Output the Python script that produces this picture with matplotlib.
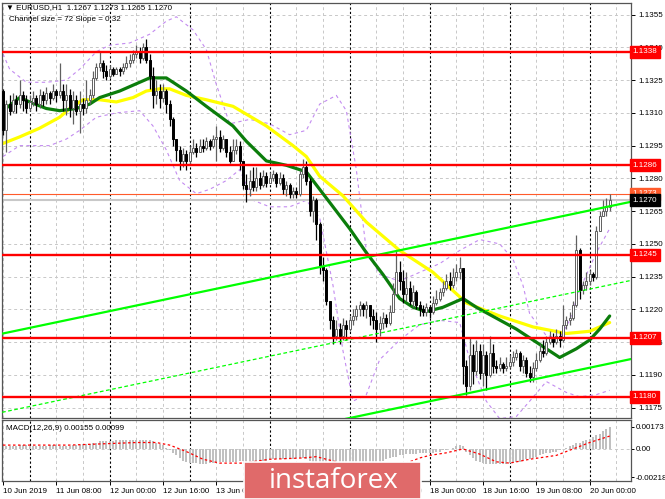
import matplotlib
matplotlib.use('Agg')
import matplotlib.pyplot as plt
import matplotlib.transforms as mtransforms
from matplotlib.patches import Rectangle

plt.rcParams['font.family'] = ['Liberation Sans', 'DejaVu Sans']

# ---------------- data (EURUSD H1, bar 0 = 10 Jun 2019 16:00) ----------------
first_open = 1.1320
closes = [
1.1302, 1.1314, 1.1311, 1.1316, 1.1314, 1.1318, 1.1316, 1.1312, 1.1315, 1.1317,
1.1314, 1.1318, 1.1316, 1.1319, 1.1317, 1.1320, 1.1318, 1.1320, 1.1316, 1.1318,
1.1312, 1.1316, 1.1311, 1.1314, 1.1312, 1.1316, 1.1318, 1.1326, 1.1331, 1.1333,
1.1329, 1.1327, 1.1330, 1.1328, 1.1330, 1.1329, 1.1331, 1.1333, 1.1334, 1.1337,
1.1338, 1.1335, 1.1340, 1.1334, 1.1327, 1.1318, 1.1320, 1.1317, 1.1320, 1.1314,
1.1307, 1.1298, 1.1293, 1.1288, 1.1291, 1.1288, 1.1292, 1.1294, 1.1292, 1.1295,
1.1294, 1.1297, 1.1295, 1.1298, 1.1299, 1.1294, 1.1298, 1.1292, 1.1288, 1.1293,
1.1295, 1.1288, 1.1277, 1.1275, 1.1279, 1.1276, 1.1280, 1.1277, 1.1281, 1.1278,
1.1280, 1.1282, 1.1278, 1.1280, 1.1275, 1.1277, 1.1273, 1.1274, 1.1273, 1.1282,
1.1285, 1.1279, 1.1265, 1.1270, 1.1259, 1.1240, 1.1238, 1.1224, 1.1215, 1.1208,
1.1211, 1.1208, 1.1213, 1.1211, 1.1215, 1.1217, 1.1220, 1.1222, 1.1220, 1.1222,
1.1217, 1.1215, 1.1211, 1.1214, 1.1216, 1.1214, 1.1219, 1.1227, 1.1237, 1.1233,
1.1227, 1.1230, 1.1224, 1.1228, 1.1222, 1.1220, 1.1219, 1.1221, 1.1219, 1.1223,
1.1225, 1.1228, 1.1230, 1.1233, 1.1231, 1.1235, 1.1237, 1.1239, 1.1194, 1.1185,
1.1199, 1.1192, 1.1201, 1.1191, 1.1199, 1.1190, 1.1200, 1.1194, 1.1193, 1.1195,
1.1193, 1.1194, 1.1196, 1.1198, 1.1200, 1.1194, 1.1197, 1.1191, 1.1189, 1.1193,
1.1197, 1.1201, 1.1200, 1.1205, 1.1207, 1.1205, 1.1208, 1.1206, 1.1213, 1.1215,
1.1216, 1.1222, 1.1247, 1.1229, 1.1231, 1.1233, 1.1236, 1.1235, 1.1256, 1.1263,
1.1265, 1.1267, 1.1270]
highs = [
1.1321, 1.1316, 1.1318, 1.1319, 1.1318, 1.1325, 1.1320, 1.1318, 1.1318, 1.1320,
1.1318, 1.1321, 1.1320, 1.1322, 1.1320, 1.1323, 1.1321, 1.1333, 1.1323, 1.1323,
1.1321, 1.1320, 1.1318, 1.1320, 1.1317, 1.1325, 1.1321, 1.1329, 1.1333, 1.1338,
1.1334, 1.1332, 1.1332, 1.1331, 1.1331, 1.1331, 1.1333, 1.1336, 1.1337, 1.1339,
1.1341, 1.1340, 1.1342, 1.1344, 1.1337, 1.1331, 1.1325, 1.1323, 1.1323, 1.1321,
1.1316, 1.1308, 1.1298, 1.1295, 1.1294, 1.1293, 1.1295, 1.1298, 1.1296, 1.1298,
1.1298, 1.1299, 1.1298, 1.1300, 1.1304, 1.1302, 1.1300, 1.1298, 1.1295, 1.1298,
1.1298, 1.1297, 1.1288, 1.1282, 1.1284, 1.1285, 1.1285, 1.1283, 1.1284, 1.1283,
1.1283, 1.1284, 1.1283, 1.1283, 1.1282, 1.1279, 1.1278, 1.1276, 1.1276, 1.1284,
1.1289, 1.1288, 1.1280, 1.1272, 1.1271, 1.1260, 1.1244, 1.1239, 1.1224, 1.1217,
1.1215, 1.1214, 1.1216, 1.1215, 1.1217, 1.1220, 1.1222, 1.1224, 1.1223, 1.1224,
1.1222, 1.1220, 1.1219, 1.1217, 1.1219, 1.1218, 1.1222, 1.1232, 1.1247, 1.1242,
1.1238, 1.1237, 1.1233, 1.1231, 1.1229, 1.1224, 1.1222, 1.1223, 1.1222, 1.1226,
1.1229, 1.1230, 1.1233, 1.1236, 1.1237, 1.1239, 1.1241, 1.1244, 1.1239, 1.1197,
1.1207, 1.1204, 1.1206, 1.1204, 1.1204, 1.1201, 1.1208, 1.1204, 1.1197, 1.1198,
1.1196, 1.1198, 1.1199, 1.1201, 1.1202, 1.1201, 1.1199, 1.1198, 1.1194, 1.1196,
1.1200, 1.1204, 1.1206, 1.1208, 1.1210, 1.1209, 1.1211, 1.1210, 1.1222, 1.1217,
1.1219, 1.1224, 1.1254, 1.1248, 1.1233, 1.1237, 1.1238, 1.1237, 1.1258, 1.1265,
1.1270, 1.1271, 1.1273]
lows = [
1.1300, 1.1292, 1.1309, 1.1310, 1.1310, 1.1312, 1.1311, 1.1310, 1.1311, 1.1313,
1.1311, 1.1312, 1.1313, 1.1314, 1.1314, 1.1316, 1.1315, 1.1317, 1.1311, 1.1309,
1.1308, 1.1305, 1.1309, 1.1301, 1.1309, 1.1310, 1.1314, 1.1317, 1.1325, 1.1329,
1.1326, 1.1325, 1.1326, 1.1327, 1.1328, 1.1327, 1.1328, 1.1330, 1.1331, 1.1333,
1.1335, 1.1333, 1.1334, 1.1333, 1.1321, 1.1312, 1.1314, 1.1312, 1.1315, 1.1310,
1.1304, 1.1295, 1.1288, 1.1284, 1.1285, 1.1284, 1.1286, 1.1291, 1.1290, 1.1292,
1.1292, 1.1293, 1.1293, 1.1294, 1.1288, 1.1292, 1.1293, 1.1290, 1.1287, 1.1288,
1.1291, 1.1284, 1.1275, 1.1269, 1.1272, 1.1274, 1.1274, 1.1275, 1.1276, 1.1276,
1.1278, 1.1279, 1.1276, 1.1277, 1.1273, 1.1272, 1.1271, 1.1271, 1.1271, 1.1272,
1.1280, 1.1277, 1.1263, 1.1260, 1.1252, 1.1236, 1.1233, 1.1222, 1.1211, 1.1204,
1.1206, 1.1204, 1.1206, 1.1206, 1.1210, 1.1213, 1.1215, 1.1217, 1.1217, 1.1216,
1.1213, 1.1211, 1.1205, 1.1208, 1.1211, 1.1212, 1.1213, 1.1219, 1.1227, 1.1229,
1.1223, 1.1224, 1.1222, 1.1221, 1.1220, 1.1217, 1.1217, 1.1217, 1.1216, 1.1218,
1.1222, 1.1224, 1.1226, 1.1229, 1.1229, 1.1230, 1.1233, 1.1234, 1.1186, 1.1181,
1.1183, 1.1186, 1.1190, 1.1188, 1.1185, 1.1183, 1.1189, 1.1191, 1.1191, 1.1192,
1.1191, 1.1192, 1.1193, 1.1194, 1.1197, 1.1192, 1.1191, 1.1189, 1.1187, 1.1187,
1.1192, 1.1196, 1.1198, 1.1199, 1.1204, 1.1203, 1.1204, 1.1203, 1.1205, 1.1211,
1.1213, 1.1215, 1.1221, 1.1225, 1.1227, 1.1229, 1.1231, 1.1233, 1.1234, 1.1256,
1.1263, 1.1263, 1.1265]

# moving averages: (bar, price)
ma_fast_bars = [0, 5, 8, 13, 17, 22, 26, 29, 35, 41, 44, 47, 49, 55, 61, 69, 73, 79, 85, 91,
                95, 99, 104, 109, 114, 119, 123, 127, 132, 138, 142, 148, 154, 160, 167, 172,
                176, 179, 182]
ma_fast_vals = [1.1311, 1.1317, 1.1315, 1.1312, 1.1311, 1.1312, 1.1314, 1.1317, 1.1320, 1.1324,
                1.1326, 1.1326, 1.1326, 1.1320, 1.1313, 1.1304, 1.1297, 1.1288, 1.1286, 1.1283,
                1.1275, 1.1267, 1.1257, 1.1246, 1.1236, 1.1225, 1.1221, 1.1219, 1.1221, 1.1225,
                1.1221, 1.1216, 1.1211, 1.1205, 1.1198, 1.1202, 1.1206, 1.1211, 1.1217]
ma_slow_bars = [0, 5, 11, 17, 20, 24, 29, 34, 39, 43, 47, 50, 55, 61, 69, 79, 87, 91, 95, 102,
                109, 119, 129, 139, 149, 159, 169, 176, 182]
ma_slow_vals = [1.1296, 1.1299, 1.1303, 1.1308, 1.1312, 1.1316, 1.1316, 1.1315, 1.1317, 1.1320,
                1.1321, 1.1321, 1.1318, 1.1316, 1.1313, 1.1304, 1.1295, 1.1290, 1.1281, 1.1272,
                1.1260, 1.1247, 1.1237, 1.1223, 1.1217, 1.1212, 1.1209, 1.1210, 1.1214]

# envelope bands (dashed violet)
band_up_bars = [0, 2, 7, 13, 19, 23, 28, 32, 38, 44, 49, 52, 57, 61, 64, 68, 74, 80, 86, 91,
                95, 100, 103, 106, 109, 113, 119, 125, 131, 137, 143, 149, 153, 156, 158, 163,
                167, 170, 173, 178, 182]
band_up_vals = [1.1337, 1.1330, 1.1324, 1.1324, 1.1325, 1.1330, 1.1338, 1.1341, 1.1342, 1.1346,
                1.1352, 1.1354, 1.1348, 1.1339, 1.1323, 1.1305, 1.1307, 1.1305, 1.1300, 1.1302,
                1.1314, 1.1318, 1.1311, 1.1284, 1.1247, 1.1236, 1.1233, 1.1237, 1.1241, 1.1247,
                1.1252, 1.1250, 1.1243, 1.1231, 1.1218, 1.1208, 1.1207, 1.1215, 1.1229, 1.1246,
                1.1257]
band_dn_bars = [0, 5, 14, 19, 23, 28, 34, 41, 45, 49, 53, 58, 62, 67, 71, 75, 80, 86, 91, 95,
                99, 102, 105, 109, 113, 119, 125, 131, 137, 140, 145, 149, 154, 158, 163, 169,
                173, 178, 182]
band_dn_vals = [1.1290, 1.1295, 1.1295, 1.1298, 1.1302, 1.1308, 1.1310, 1.1311, 1.1304, 1.1293,
                1.1279, 1.1273, 1.1275, 1.1279, 1.1284, 1.1270, 1.1267, 1.1267, 1.1270, 1.1262,
                1.1231, 1.1201, 1.1178, 1.1181, 1.1197, 1.1206, 1.1213, 1.1215, 1.1214, 1.1197,
                1.1178, 1.1170, 1.1171, 1.1178, 1.1187, 1.1182, 1.1180, 1.1181, 1.1183]

# linear regression channel
chan_mid_start = 1.1173   # at bar 0
chan_slope = 0.000032     # per bar (0.32 pips)
chan_half = 0.0036        # channel size 72 pips

levels = [1.1338, 1.1286, 1.1245, 1.1207, 1.1180]
bid, ask = 1.1270, 1.1273
price_ticks = [1.1355, 1.1340, 1.1325, 1.1310, 1.1295, 1.1280, 1.1265, 1.1250,
               1.1235, 1.1220, 1.1205, 1.1190, 1.1175]

# MACD (units of 1e-4)
macd_scale = 1e-4
macd_hist = [
2, 2, 2, 2, 2, 3, 3, 3, 2, 2,
2, 2, 2, 2, 3, 3, 3, 2, 2, 2,
2, 3, 3, 3, 4, 4, 4, 5, 5, 6,
6, 6, 6, 6, 7, 7, 7, 7, 7, 7,
7, 7, 7, 7, 7, 6, 5, 4, 3, 1,
-1, -3, -5, -7, -9, -10, -11, -11, -11, -12,
-12, -12, -11, -11, -11, -10, -10, -10, -10, -10,
-10, -9, -9, -10, -10, -10, -10, -9, -9, -9,
-8, -8, -8, -8, -8, -8, -8, -8, -7, -7,
-7, -8, -9, -11, -13, -15, -17, -19, -20, -21,
-21, -22, -22, -22, -21, -21, -20, -19, -18, -17,
-16, -14, -12, -10, -9, -8, -7, -6, -6, -5,
-5, -4, -4, -4, -4, -3, -3, -3, -3, -3,
-2, -2, -1, -1, 0, 1, 2, 3, 2, -2,
-5, -7, -9, -10, -11, -12, -12, -12, -12, -12,
-12, -12, -11, -11, -10, -10, -9, -8, -8, -7,
-6, -5, -4, -3, -3, -2, -2, -1, 0, 1,
2, 3, 5, 5, 6, 7, 8, 9, 11, 12,
14, 15.5, 17.3]
signal_bars = [0, 20, 40, 46, 50, 55, 60, 65, 72, 80, 90, 94, 100, 106, 112, 118, 125, 128,
               133, 138, 143, 148, 152, 158, 166, 171, 176, 182]
signal_vals = [3, 3, 5, 5, 3, -2, -8, -11, -11, -8, -7, -6, -10, -16, -17, -14, -7, -5,
               -3, 0, -4, -10, -11, -8, -5, 0, 5, 10]
macd_ticks = [0.00173, 0.0, -0.00218]
macd_tick_labels = ['0.00173', '0.00', '-0.00218']

time_tick_bars = [0, 16, 32, 48, 64, 80, 96, 112, 128, 144, 160, 176]
time_tick_labels = ['10 Jun 2019', '11 Jun 08:00', '12 Jun 00:00', '12 Jun 16:00',
                    '13 Jun 08:00', '14 Jun 00:00', '14 Jun 16:00', '17 Jun 08:00',
                    '18 Jun 00:00', '18 Jun 16:00', '19 Jun 08:00', '20 Jun 00:00']
day_sep_bars = [8, 32, 56, 80, 104, 128, 152, 176]

# ---------------- figure ----------------
W, H = 665, 499
fig = plt.figure(figsize=(W / 100, H / 100), dpi=100)
fig.patch.set_facecolor('white')

def rect(l, t, r, b):
    return [l / W, 1 - b / H, (r - l) / W, (b - t) / H]

RIGHT = 631
ax = fig.add_axes(rect(2, 3, RIGHT, 418))
axm = fig.add_axes(rect(2, 420, RIGHT, 481))
XL = (-0.3, 188.4)
n = len(closes)
opens = [first_open] + closes[:-1]
xs = list(range(n))

FS = 5.8
grid_kw = dict(color='#C8C8C8', lw=0.7, dashes=(3, 3), zorder=0)
sep_kw = dict(color='black', lw=0.8, dashes=(2, 2), zorder=0.5)

for a in (ax, axm):
    a.set_xlim(*XL)
    for s in a.spines.values():
        s.set_color('#555555')
        s.set_linewidth(0.9)
    a.set_facecolor('white')
    for b in range(0, 189, 8):
        if b not in day_sep_bars:
            a.axvline(b, **grid_kw)
    for b in day_sep_bars:
        a.axvline(b, **sep_kw)

# main panel
ax.set_ylim(1.11703, 1.13603)
for p in price_ticks:
    ax.axhline(p, **grid_kw)

# bands
ax.plot(band_up_bars, band_up_vals, color='#C38BF0', lw=0.8, dashes=(3, 3), zorder=1)
ax.plot(band_dn_bars, band_dn_vals, color='#C38BF0', lw=0.8, dashes=(3, 3), zorder=1)

# bid/ask lines
ax.axhline(bid, color='#C8C8C8', lw=1.5, zorder=1)
ax.axhline(ask, color='#FF5A2A', lw=0.8, zorder=1)

# moving averages
ax.plot(ma_slow_bars, ma_slow_vals, color='#FFFF00', lw=2.3, zorder=2, solid_capstyle='round')
ax.plot(ma_fast_bars, ma_fast_vals, color='#0B7D0B', lw=2.3, zorder=2.1, solid_capstyle='round')

# candles
for i in xs:
    o, c, h, l = opens[i], closes[i], highs[i], lows[i]
    bull = c >= o
    edge = '#606060' if bull else 'black'
    fill = 'white' if bull else 'black'
    ax.vlines(i, l, h, color=edge, lw=0.9, zorder=3)
    hgt = max(abs(c - o), 0.00002)
    ax.bar(i, hgt, bottom=min(o, c), width=0.65, color=fill, edgecolor=edge,
           linewidth=0.7, zorder=3.1)

# regression channel
cx = [XL[0], XL[1]]
mid = [chan_mid_start + chan_slope * x for x in cx]
ax.plot(cx, [m + chan_half for m in mid], color='#00FF00', lw=1.6, zorder=4)
ax.plot(cx, [m - chan_half for m in mid], color='#00FF00', lw=1.6, zorder=4)
ax.plot(cx, mid, color='#00FF00', lw=0.9, dashes=(3, 2), zorder=4)

# horizontal levels
for lv in levels:
    ax.axhline(lv, color='#FF0000', lw=1.7, zorder=5)

ax.set_xticks([])
ax.yaxis.tick_right()
ax.set_yticks(price_ticks)
ax.set_yticklabels([f'{p:.4f}' for p in price_ticks])
ax.tick_params(axis='y', labelsize=FS, length=3, pad=2, colors='black', width=0.7)

trans = mtransforms.blended_transform_factory(ax.transAxes, ax.transData)
box_kw = dict(boxstyle='square,pad=0.3')
for lv in levels:
    ax.text(1.003, lv, f'{lv:.4f}', transform=trans, fontsize=FS, color='white',
            va='center', ha='left', zorder=10, clip_on=False,
            bbox=dict(fc='#FF0000', ec='#FF0000', **box_kw))
ax.text(1.003, ask, f'{ask:.4f}', transform=trans, fontsize=FS, color='white',
        va='center', ha='left', zorder=10, clip_on=False,
        bbox=dict(fc='#FF5A2A', ec='#FF5A2A', **box_kw))
ax.text(1.003, bid, f'{bid:.4f}', transform=trans, fontsize=FS, color='white',
        va='center', ha='left', zorder=11, clip_on=False,
        bbox=dict(fc='black', ec='black', **box_kw))

# titles
fig.text(6 / W, 1 - 8 / H, '\u25BC EURUSD,H1  1.1267 1.1273 1.1265 1.1270', fontsize=FS,
         va='center', ha='left', color='black')
fig.text(9 / W, 1 - 19.5 / H, 'Channel size = 72 Slope = 0.32', fontsize=FS,
         va='center', ha='left', color='black')

# MACD panel
axm.set_ylim(-0.00249, 0.00225)
axm.axhline(0, **grid_kw)
axm.bar(xs, [v * macd_scale for v in macd_hist], width=0.6, color='#C0C0C0', zorder=2)
axm.plot(signal_bars, [v * macd_scale for v in signal_vals], color='#FF0000', lw=0.9,
         dashes=(2, 2), zorder=3)
axm.yaxis.tick_right()
axm.set_yticks(macd_ticks)
axm.set_yticklabels(macd_tick_labels)
axm.tick_params(axis='y', labelsize=FS, length=2.5, pad=1, width=0.7)
axm.set_xticks(time_tick_bars)
axm.set_xticklabels(time_tick_labels)
axm.tick_params(axis='x', labelsize=FS, length=3, pad=2, width=0.7)
for lbl in axm.get_xticklabels():
    lbl.set_ha('left')
axm.text(0.006, 0.86, 'MACD(12,26,9) 0.00155 0.00099', transform=axm.transAxes,
         fontsize=FS, va='center', ha='left')

# instaforex logo
logo = Rectangle((244 / W, 0), (421 - 244) / W, (499 - 462) / H, transform=fig.transFigure,
                 facecolor='#E06A6A', edgecolor='white', lw=1.2, zorder=20)
fig.add_artist(logo)
fig.text(334 / W, 1 - 481 / H, 'instaforex', fontsize=20, color='white', ha='center',
         va='center', zorder=21, family=['Open Sans', 'DejaVu Sans'])

fig.savefig('out.png', dpi=100)
